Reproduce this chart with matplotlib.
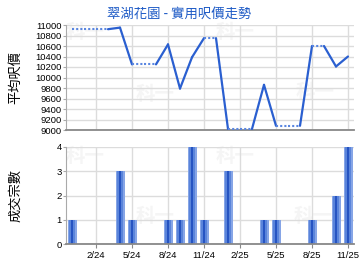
import numpy as np
import pandas as pd
import matplotlib
matplotlib.use("Agg")
import matplotlib.pyplot as plt

plt.rcParams['font.family'] = ['Liberation Sans', 'Noto Sans CJK TC', 'DejaVu Sans']

# 12/23 .. 11/25, one entry per month
months = ['12/23', '1/24', '2/24', '3/24', '4/24', '5/24', '6/24', '7/24', '8/24', '9/24',
          '10/24', '11/24', '12/24', '1/25', '2/25', '3/25', '4/25', '5/25', '6/25', '7/25',
          '8/25', '9/25', '10/25', '11/25']
# average price per sq ft, None = no deal that month (carried forward)
price = [10920, None, None, None, 10950, 10250, None, None, 10630, 9790,
         10385, 10750, None, 9020, None, None, 9860, 9080, None, None,
         10600, None, 10210, 10400]
deals = [1, 0, 0, 0, 3, 1, 0, 0, 1, 1, 4, 1, 0, 3, 0, 0, 1, 1, 0, 0, 1, 0, 2, 4]
tick_labels = ['2/24', '5/24', '8/24', '11/24', '2/25', '5/25', '8/25', '11/25']

title = '翠湖花園 - 實用呎價走勢'
ylabel_top = '平均呎價'
ylabel_bottom = '成交宗數'

x = np.arange(len(months))
price_f = pd.Series(price, dtype=float).ffill().values
tick_pos = [months.index(t) for t in tick_labels]

fig = plt.figure(figsize=(3.6, 2.7), dpi=100)
fig.patch.set_facecolor('white')

ax1 = fig.add_axes([66 / 360, 1 - 130 / 270, 288 / 360, 105 / 270])
ax2 = fig.add_axes([66 / 360, 1 - 244 / 270, 288 / 360, 97 / 270])

# faint watermarks
for px, py in [(85, 32), (155, 94), (235, 33), (315, 92),
               (85, 157), (155, 217), (235, 157), (313, 217)]:
    fig.text(px / 360, 1 - py / 270, '科一', color='#f5f5f5', fontsize=14,
             fontweight='bold', ha='center', va='center', zorder=-1,
             family=['Noto Sans CJK TC'])

line_col = '#2a5fd0'
dot_col = '#5a86e0'
for i in range(len(x) - 1):
    if deals[i + 1] > 0:
        ax1.plot(x[i:i + 2], price_f[i:i + 2], color=line_col, lw=1.6,
                 solid_capstyle='round', zorder=3)
    else:
        ax1.plot(x[i:i + 2], price_f[i:i + 2], color=dot_col, lw=1.5,
                 linestyle=(0, (1, 1)), zorder=3)

# bars with a simple fake gradient
ax2.bar(x, deals, width=0.75, color='#86a5e6', zorder=2)
ax2.bar(x, deals, width=0.5, color='#5a84da', zorder=2)
ax2.bar(x, deals, width=0.22, color='#2654c2', zorder=2)

for ax in (ax1, ax2):
    ax.set_facecolor('none')
    ax.set_xlim(-0.5, len(x) - 0.5)
    ax.set_xticks(tick_pos)
    ax.grid(True, color='#dcdcdc', lw=1)
    ax.set_axisbelow(True)
    ax.spines['top'].set_visible(False)
    ax.spines['right'].set_visible(False)
    ax.spines['left'].set_color('#aaaaaa')
    ax.spines['bottom'].set_color('#888888')
    ax.spines['bottom'].set_linewidth(1.3)
    ax.tick_params(axis='y', length=2, color='#aaaaaa', labelsize=6.8, pad=1)

ax1.set_ylim(9000, 11000)
ax1.set_yticks(np.arange(9000, 11001, 200))
ax1.tick_params(axis='x', length=0, labelbottom=False)
ax1.set_ylabel(ylabel_top, fontsize=9.5, family=['Noto Sans CJK TC'])
ax1.yaxis.set_label_coords(-44 / 288, 0.5)

ax2.set_ylim(0, 4)
ax2.set_yticks(range(5))
ax2.set_xticklabels(tick_labels)
ax2.tick_params(axis='x', length=3, color='#888888', labelsize=6.8, pad=2)
ax2.set_ylabel(ylabel_bottom, fontsize=9.5, family=['Noto Sans CJK TC'])
ax2.yaxis.set_label_coords(-44 / 288, 0.5)

fig.text(179 / 360, 1 - 14 / 270, title, color='#1e5bc6', fontsize=9.6,
         ha='center', va='center', family=['Noto Sans CJK TC', 'Liberation Sans'])

fig.savefig('out.png', dpi=100)
